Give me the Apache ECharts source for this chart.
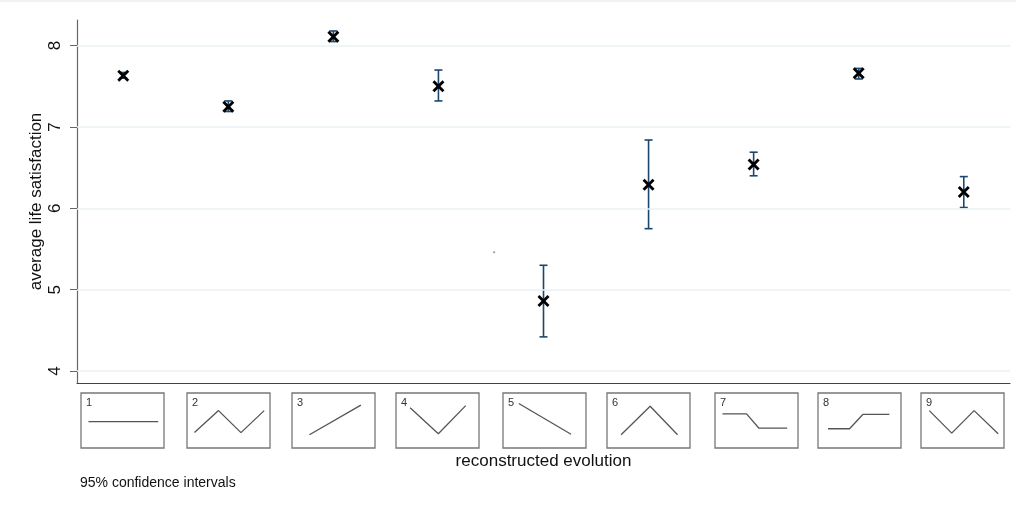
<!DOCTYPE html>
<html>
<head>
<meta charset="utf-8">
<script src="https://cdn.jsdelivr.net/npm/echarts@6/dist/echarts.min.js"></script>
<style>
  html, body { margin: 0; padding: 0; background: #fff; }
  #chart { width: 1016px; height: 514px; }
</style>
</head>
<body>
<div id="chart"></div>
<script>
// ---- data ----
const categories = ['1', '2', '3', '4', '5', '6', '7', '8', '9'];
const meanValues = [7.63, 7.25, 8.11, 7.50, 4.86, 6.29, 6.54, 7.66, 6.20];
const ciLower   = [7.60, 7.19, 8.05, 7.32, 4.42, 5.75, 6.40, 7.59, 6.01];
const ciUpper   = [7.67, 7.32, 8.18, 7.70, 5.30, 6.84, 6.69, 7.72, 6.39];
const yTickValues = [4, 5, 6, 7, 8];
const strayPoint = [[4.53, 5.46]];

// evolution pictograms (x: % of box width, y: % of box height from bottom)
const shape1 = [[9, 48], [93, 48]];
const shape2 = [[9, 28], [38, 68], [65, 28], [93, 68]];
const shape3 = [[21, 24], [83, 78]];
const shape4 = [[17, 73], [51, 26], [84, 77]];
const shape5 = [[19, 81], [82, 25]];
const shape6 = [[17, 24], [52, 76], [85, 24]];
const shape7 = [[9, 62], [38, 62], [53, 36], [87, 36]];
const shape8 = [[12, 35], [38, 35], [54, 61], [86, 61]];
const shape9 = [[10, 68], [37, 27], [64, 68], [93, 26]];
const shapes = [shape1, shape2, shape3, shape4, shape5, shape6, shape7, shape8, shape9];

// ---- layout ----
const FONT = '"Liberation Sans", Arial, sans-serif';
const boxLefts = [81, 187, 292, 396, 503, 607, 715, 818, 921];
const boxTop = 393, boxW = 83, boxH = 55;

const chart = echarts.init(document.getElementById('chart'), null, { renderer: 'canvas' });

const grids = [{ left: 77, right: 6, top: 20, bottom: 131, containLabel: false }];
const xAxes = [{
  type: 'value', gridIndex: 0, min: 0.56, max: 9.44,
  axisLine: { show: true, onZero: false, lineStyle: { color: '#444', width: 1.2 } },
  axisTick: { show: false }, axisLabel: { show: false }, splitLine: { show: false },
  name: 'reconstructed evolution', nameLocation: 'middle', nameGap: 70, nameMoveOverlap: false,
  nameTextStyle: { fontFamily: FONT, fontSize: 17, color: '#111' }
}];
const yAxes = [{
  type: 'value', gridIndex: 0, min: 3.853, max: 8.315,
  axisLine: { show: true, onZero: false, lineStyle: { color: '#666', width: 1.2 } },
  axisTick: { show: true, length: 7, customValues: yTickValues, lineStyle: { color: '#666' } },
  axisLabel: { show: true, customValues: yTickValues, rotate: 90, margin: 13,
    fontFamily: FONT, fontSize: 17, color: '#111' },
  splitLine: { show: false },
  name: 'average life satisfaction', nameLocation: 'middle', nameGap: 32, nameMoveOverlap: false,
  nameTextStyle: { fontFamily: FONT, fontSize: 17, color: '#111' }
}];

const series = [];

// grid lines from tick values
series.push({
  type: 'line', xAxisIndex: 0, yAxisIndex: 0, data: [], silent: true,
  markLine: {
    symbol: 'none', silent: true, label: { show: false },
    lineStyle: { color: '#eaf2f3', type: 'solid', width: 1.5 },
    data: yTickValues.map(v => ({ yAxis: v }))
  }
});

// error bars + X markers
series.push({
  type: 'custom', xAxisIndex: 0, yAxisIndex: 0,
  data: categories.map((c, i) => [i + 1, ciLower[i], ciUpper[i], meanValues[i]]),
  renderItem: function (params, api) {
    const x = api.value(0);
    const pLo = api.coord([x, api.value(1)]);
    const pHi = api.coord([x, api.value(2)]);
    const pM = api.coord([x, api.value(3)]);
    const cw = 4, s = 5;
    const bar = { stroke: '#1a476f', lineWidth: 1.6 };
    const mk = { stroke: '#000', lineWidth: 2.8 };
    return {
      type: 'group', children: [
        { type: 'line', shape: { x1: pLo[0], y1: pLo[1], x2: pHi[0], y2: pHi[1] }, style: bar },
        { type: 'line', shape: { x1: pLo[0] - cw, y1: pLo[1], x2: pLo[0] + cw, y2: pLo[1] }, style: bar },
        { type: 'line', shape: { x1: pHi[0] - cw, y1: pHi[1], x2: pHi[0] + cw, y2: pHi[1] }, style: bar },
        { type: 'line', shape: { x1: pM[0] - s, y1: pM[1] - s, x2: pM[0] + s, y2: pM[1] + s }, style: mk },
        { type: 'line', shape: { x1: pM[0] - s, y1: pM[1] + s, x2: pM[0] + s, y2: pM[1] - s }, style: mk }
      ]
    };
  }
});

// stray dot
series.push({
  type: 'scatter', xAxisIndex: 0, yAxisIndex: 0, data: strayPoint,
  symbolSize: 2, itemStyle: { color: '#777' }, silent: true
});

const graphics = [
  { type: 'line', shape: { x1: 0, y1: 1, x2: 1016, y2: 1 }, style: { stroke: '#eeeeee', lineWidth: 1.5 } },
  { type: 'text', left: 80, top: 476, style: { text: '95% confidence intervals', fontFamily: FONT, fontSize: 14, fill: '#111' } }
];

shapes.forEach((shp, i) => {
  const gi = i + 1;
  grids.push({
    left: boxLefts[i], top: boxTop, width: boxW, height: boxH,
    show: true, borderColor: '#777', borderWidth: 1.3, backgroundColor: '#fff'
  });
  xAxes.push({ type: 'value', gridIndex: gi, min: 0, max: 100, show: false });
  yAxes.push({ type: 'value', gridIndex: gi, min: 0, max: 100, show: false });
  series.push({
    type: 'line', xAxisIndex: gi, yAxisIndex: gi, data: shp,
    showSymbol: false, symbol: 'none', silent: true,
    lineStyle: { color: '#555', width: 1.3 }
  });
  graphics.push({
    type: 'text', left: boxLefts[i] + 5, top: boxTop + 4,
    style: { text: categories[i], fontFamily: FONT, fontSize: 11, fill: '#333' }
  });
});

chart.setOption({
  animation: false,
  backgroundColor: '#fff',
  grid: grids,
  xAxis: xAxes,
  yAxis: yAxes,
  series: series,
  graphic: graphics
});
</script>
</body>
</html>
